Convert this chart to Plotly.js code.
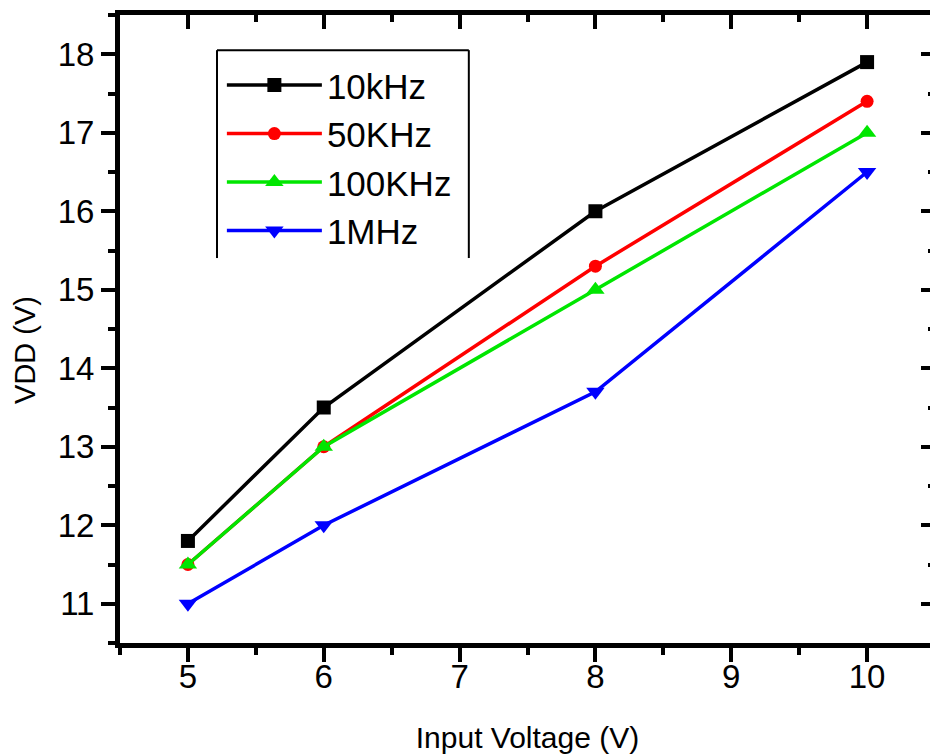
<!DOCTYPE html>
<html>
<head>
<meta charset="utf-8">
<script src="https://cdn.plot.ly/plotly-3.0.1.min.js"></script>
<style>
  html, body { margin: 0; padding: 0; overflow: hidden; background: #fff; }
  #chart { width: 940px; height: 754px; }
</style>
</head>
<body>
<div id="chart"></div>
<script>
// Supply voltage VDD versus input voltage at four switching frequencies
const inputVoltage = [5, 6, 8, 10];
const vdd10kHz  = [11.8, 13.5, 16.0, 17.9];
const vdd50kHz  = [11.5, 13.0, 15.3, 17.4];
const vdd100kHz = [11.5, 13.0, 15.0, 17.0];
const vdd1MHz   = [11.0, 12.0, 13.7, 16.5];

const seriesNames = ['10kHz', '50KHz', '100KHz', '1MHz'];
const seriesValues = [vdd10kHz, vdd50kHz, vdd100kHz, vdd1MHz];
const seriesColors = ['#000000', '#ff0000', '#00e600', '#0000ff'];
const seriesSymbols = ['square', 'circle', 'triangle-up', 'triangle-down'];
const seriesSizes = [14, 13, 16, 16];

const FONT = '"Liberation Sans", Arial, sans-serif';

// The last series sits on the mirrored axis pair (same ranges) so the
// top/right frame with inward ticks is drawn.
const traces = seriesNames.map((name, i) => ({
  type: 'scatter',
  mode: 'lines+markers',
  name: name,
  x: inputVoltage,
  y: seriesValues[i],
  xaxis: i === seriesNames.length - 1 ? 'x2' : 'x',
  yaxis: i === seriesNames.length - 1 ? 'y2' : 'y',
  line: { color: seriesColors[i], width: 3.5 },
  marker: { color: seriesColors[i], symbol: seriesSymbols[i], size: seriesSizes[i], line: { width: 0 } }
}));

const xRange = [4.5, 10.5];
const yRange = [10.5, 18.5];

const baseAxis = {
  showgrid: false,
  zeroline: false,
  showline: true,
  linecolor: '#000',
  linewidth: 5,
  tickcolor: '#000',
  tickwidth: 4,
  ticklen: 14,
  dtick: 1,
  tickfont: { family: FONT, size: 33, color: '#000' }
};

const layout = {
  width: 940,
  height: 754,
  margin: { l: 120, r: 5, t: 15, b: 111 },
  paper_bgcolor: '#fff',
  plot_bgcolor: '#fff',
  font: { family: FONT, color: '#000' },
  showlegend: true,
  xaxis: Object.assign({}, baseAxis, {
    range: xRange,
    ticks: 'outside',
    tick0: 5,
    ticklabelstandoff: -14,
    minor: { dtick: 0.5, ticks: 'outside', ticklen: 7, tickwidth: 4, tickcolor: '#000' },
    title: { text: 'Input Voltage (V)', font: { family: FONT, size: 30, color: '#000' }, standoff: 38 }
  }),
  yaxis: Object.assign({}, baseAxis, {
    range: yRange,
    ticks: 'outside',
    tick0: 11,
    minor: { dtick: 0.5, ticks: 'outside', ticklen: 7, tickwidth: 4, tickcolor: '#000' }
  }),
  xaxis2: Object.assign({}, baseAxis, {
    overlaying: 'x',
    anchor: 'y2',
    side: 'top',
    range: xRange,
    ticks: 'inside',
    tick0: 5,
    showticklabels: false,
    minor: { dtick: 0.5, ticks: 'inside', ticklen: 7, tickwidth: 4, tickcolor: '#000' }
  }),
  yaxis2: Object.assign({}, baseAxis, {
    overlaying: 'y',
    anchor: 'x2',
    side: 'right',
    range: yRange,
    ticks: 'inside',
    tick0: 11,
    showticklabels: false,
    minor: { dtick: 0.5, ticks: 'inside', ticklen: 7, tickwidth: 4, tickcolor: '#000' }
  }),
  legend: {
    x: 0.125,
    y: 0.935,
    xanchor: 'left',
    yanchor: 'top',
    bgcolor: 'rgba(0,0,0,0)',
    borderwidth: 0,
    itemwidth: 95,
    tracegroupgap: 0,
    font: { family: FONT, size: 35, color: '#000' }
  },
  annotations: [
    {
      text: 'VDD (V)', textangle: -90,
      xref: 'paper', yref: 'paper', x: -0.1166, y: 0.4666,
      xanchor: 'center', yanchor: 'middle', showarrow: false,
      font: { family: FONT, size: 29, color: '#000' }
    }
  ],
  // legend frame: open at the bottom
  shapes: [
    { type: 'line', xref: 'paper', yref: 'paper', x0: 0.119, x1: 0.119, y0: 0.613, y1: 0.944, line: { color: '#000', width: 2 } },
    { type: 'line', xref: 'paper', yref: 'paper', x0: 0.119, x1: 0.428, y0: 0.944, y1: 0.944, line: { color: '#000', width: 2 } },
    { type: 'line', xref: 'paper', yref: 'paper', x0: 0.428, x1: 0.428, y0: 0.613, y1: 0.944, line: { color: '#000', width: 2 } }
  ]
};

Plotly.newPlot('chart', traces, layout, { staticPlot: true, displayModeBar: false });
</script>
</body>
</html>
